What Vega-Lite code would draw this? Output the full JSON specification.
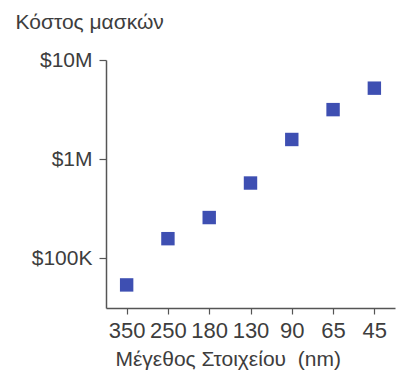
{
  "$schema": "https://vega.github.io/schema/vega-lite/v6.json",
  "width": 289,
  "height": 248,
  "autosize": "none",
  "padding": {"left": 106, "top": 60, "right": 4, "bottom": 71},
  "background": "white",
  "config": {
    "view": {"stroke": null},
    "font": "Liberation Sans",
    "axis": {
      "grid": false,
      "domainColor": "#555555",
      "tickColor": "#555555",
      "labelColor": "#3d3d3d",
      "titleColor": "#3d3d3d",
      "labelFont": "Liberation Sans",
      "titleFont": "Liberation Sans",
      "titleFontWeight": "normal"
    }
  },
  "data": {
    "values": [
      {"size": "350", "cost": 54000},
      {"size": "250", "cost": 158000},
      {"size": "180", "cost": 258000},
      {"size": "130", "cost": 575000},
      {"size": "90", "cost": 1580000},
      {"size": "65", "cost": 3160000},
      {"size": "45", "cost": 5200000}
    ]
  },
  "mark": {"type": "square", "size": 180, "color": "#3e4fb2", "opacity": 1},
  "encoding": {
    "x": {
      "field": "size",
      "type": "ordinal",
      "sort": null,
      "scale": {"type": "point", "padding": 0.5},
      "axis": {
        "title": "Μέγεθος Στοιχείου\u00a0 (nm)",
        "titleFontSize": 21,
        "titleAlign": "left",
        "titleAnchor": "start",
        "titleX": 9,
        "titleY": 57,
        "titleBaseline": "alphabetic",
        "labelAngle": 0,
        "labelFontSize": 22,
        "labelPadding": 6,
        "tickSize": 6,
        "domainWidth": 1.5,
        "tickWidth": 1.2
      }
    },
    "y": {
      "field": "cost",
      "type": "quantitative",
      "scale": {"type": "log", "domain": [31600, 10000000], "nice": false},
      "axis": {
        "values": [100000, 1000000, 10000000],
        "labelExpr": "datum.value >= 1e6 ? '$' + (datum.value / 1e6) + 'M' : '$' + (datum.value / 1e3) + 'K'",
        "labelFontSize": 21,
        "labelPadding": 7,
        "tickSize": 7,
        "domainWidth": 1.5,
        "tickWidth": 1.2,
        "title": "Κόστος μασκών",
        "titleFontSize": 21,
        "titleAngle": 0,
        "titleAlign": "left",
        "titleBaseline": "alphabetic",
        "titleX": -91,
        "titleY": -32
      }
    }
  }
}
